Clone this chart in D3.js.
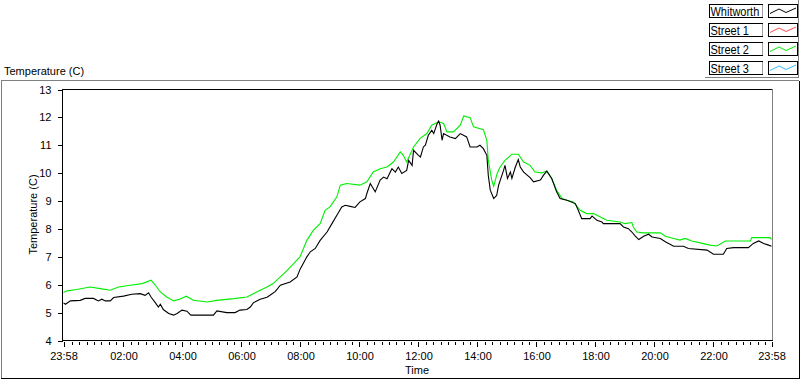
<!DOCTYPE html>
<html>
<head>
<meta charset="utf-8">
<script src="https://cdn.jsdelivr.net/npm/d3@7"></script>
<style>
  body { margin: 0; background: #fff; }
  text { font-family: "Liberation Sans", Arial, sans-serif; font-size: 11px; fill: #000; }
  .legend text { font-size: 13px; }
</style>
</head>
<body>
<script>
// series names shown in the legend
const seriesNames = ["Whitworth", "Street 1", "Street 2", "Street 3"];
const seriesColors = ["#000000", "#ff4a4a", "#00ee00", "#33bbff"];

// Whitworth (black)
const whitworthTimes = ["23:58","00:02","00:12","00:32","00:42","00:59","01:09","01:16","01:23","01:33","01:40","02:00","02:17","02:34","02:44","02:51","02:56","03:05","03:11","03:15","03:21","03:32","03:42","03:49","03:59","04:09","04:17","05:03","05:10","05:30","05:47","05:57","06:11","06:18","06:24","06:38","06:52","06:58","07:09","07:19","07:39","07:53","07:59","08:13","08:20","08:30","08:40","08:54","09:04","09:14","09:24","09:31","09:41","09:51","10:01","10:12","10:15","10:22","10:28","10:32","10:42","10:49","10:56","11:06","11:13","11:19","11:26","11:36","11:40","11:47","11:50","12:00","12:04","12:10","12:14","12:20","12:27","12:31","12:38","12:41","12:44","12:48","12:51","13:04","13:15","13:25","13:38","13:45","13:59","14:05","14:12","14:19","14:22","14:26","14:33","14:39","14:43","14:53","14:56","15:01","15:07","15:10","15:17","15:23","15:27","15:34","15:47","15:54","16:08","16:14","16:21","16:31","16:41","16:48","17:02","17:19","17:25","17:32","17:49","17:53","18:03","18:13","18:16","18:50","18:57","19:07","19:14","19:21","19:28","19:38","19:48","19:55","20:12","20:22","20:39","20:59","21:09","21:47","22:00","22:20","22:27","22:41","23:11","23:21","23:32","23:42","23:52","23:58"];
const whitworthTemp = [5.35,5.30,5.42,5.44,5.51,5.51,5.42,5.48,5.42,5.42,5.54,5.59,5.66,5.68,5.62,5.71,5.56,5.35,5.20,5.30,5.11,4.97,4.91,4.97,5.09,5.05,4.91,4.91,5.06,5.00,5.00,5.09,5.11,5.20,5.35,5.48,5.55,5.62,5.76,5.98,6.10,6.28,6.55,7.00,7.18,7.30,7.59,7.89,8.19,8.49,8.79,8.85,8.81,8.77,8.97,9.09,9.27,9.63,9.45,9.33,9.75,9.86,9.80,10.16,10.04,10.22,9.99,10.10,10.46,10.28,10.82,10.64,10.58,10.94,11.00,11.36,11.54,11.42,11.78,11.87,11.72,11.18,11.42,11.30,11.24,11.42,11.30,10.94,10.94,11.00,10.88,10.64,9.92,9.39,9.09,9.20,9.57,10.10,10.28,9.81,10.04,9.81,10.22,10.49,10.22,10.04,9.84,9.69,9.75,9.92,10.07,9.81,9.33,9.09,9.03,8.91,8.67,8.37,8.37,8.46,8.31,8.25,8.19,8.19,8.07,8.01,7.89,7.74,7.62,7.74,7.81,7.71,7.66,7.54,7.38,7.38,7.30,7.24,7.09,7.09,7.30,7.33,7.33,7.48,7.57,7.48,7.42,7.38];

// Street 2 (green)
const street2Times = ["23:58","00:05","00:25","00:52","01:13","01:33","01:50","02:14","02:38","02:56","03:05","03:15","03:28","03:42","03:55","04:08","04:22","04:50","05:10","05:44","06:11","06:24","06:38","06:52","07:05","07:19","07:32","07:46","07:59","08:13","08:26","08:40","08:50","09:00","09:14","09:21","09:34","10:01","10:15","10:28","10:42","10:56","11:09","11:23","11:29","11:36","11:50","12:03","12:17","12:27","12:41","12:51","12:58","13:11","13:25","13:32","13:45","13:52","14:12","14:19","14:22","14:29","14:33","14:40","14:46","14:56","15:10","15:23","15:34","15:47","15:57","16:11","16:21","16:31","16:41","16:52","17:02","17:15","17:29","17:42","17:56","18:10","18:23","18:50","19:00","19:14","19:17","19:24","19:38","20:12","20:22","20:39","20:52","21:02","21:16","21:33","21:53","22:07","22:24","23:15","23:18","23:55","23:58"];
const street2Temp = [5.72,5.78,5.83,5.92,5.86,5.80,5.92,5.98,6.04,6.16,5.98,5.74,5.56,5.42,5.49,5.59,5.44,5.38,5.44,5.50,5.56,5.68,5.80,5.92,6.05,6.28,6.50,6.76,7.00,7.59,7.95,8.19,8.67,8.79,9.15,9.57,9.63,9.57,9.69,10.04,10.16,10.22,10.40,10.76,10.64,10.40,10.94,11.24,11.42,11.72,11.84,11.78,11.48,11.48,11.72,12.05,11.99,11.66,11.56,11.18,10.46,9.75,9.53,9.99,10.22,10.46,10.68,10.68,10.40,10.28,10.04,10.01,10.08,9.81,9.39,9.09,9.03,8.97,8.67,8.55,8.55,8.43,8.31,8.25,8.19,8.23,8.07,7.89,7.86,7.86,7.74,7.66,7.60,7.66,7.57,7.50,7.42,7.39,7.57,7.57,7.69,7.69,7.62];

// axis ticks
const xTickLabels = ["23:58","02:00","04:00","06:00","08:00","10:00","12:00","14:00","16:00","18:00","20:00","22:00","23:58"];
const yTicks = [4, 5, 6, 7, 8, 9, 10, 11, 12, 13];

// "HH:MM" strings -> dates, rolling over midnight
function toDates(times) {
  let day = 0, prev = -1;
  return times.map(s => {
    const [h, m] = s.split(":").map(Number);
    const mins = h * 60 + m;
    if (mins < prev) day++;
    prev = mins;
    return new Date(2013, 0, 1 + day, h, m);
  });
}

const width = 800, height = 380;
const plot = { left: 62, right: 772, top: 89, bottom: 340 };

const svg = d3.select("body").append("svg")
  .attr("width", width)
  .attr("height", height);

// top-left title
svg.append("text").attr("x", 4).attr("y", 75).text("Temperature (C)");

// outer frame
const frame = svg.append("g").attr("shape-rendering", "crispEdges");
frame.append("line").attr("x1", 1).attr("x2", 799).attr("y1", 80.5).attr("y2", 80.5).attr("stroke", "#808080");
frame.append("line").attr("x1", 1.5).attr("x2", 1.5).attr("y1", 80).attr("y2", 378).attr("stroke", "#808080");
frame.append("line").attr("x1", 1).attr("x2", 800).attr("y1", 378.5).attr("y2", 378.5).attr("stroke", "#000");
frame.append("line").attr("x1", 799.5).attr("x2", 799.5).attr("y1", 81).attr("y2", 379).attr("stroke", "#000");

const xTickDates = toDates(xTickLabels);
const x = d3.scaleTime()
  .domain([xTickDates[0], xTickDates[xTickDates.length - 1]])
  .range([plot.left + 1.5, plot.right - 0.5]);

const y = d3.scaleLinear()
  .domain([4, 13])
  .range([plot.bottom + 0.5, plot.top + 0.5]);

// plot borders: top black, right gray
frame.append("line").attr("x1", plot.left).attr("x2", plot.right).attr("y1", plot.top + 0.5).attr("y2", plot.top + 0.5).attr("stroke", "#000");
frame.append("line").attr("x1", plot.right + 0.5).attr("x2", plot.right + 0.5).attr("y1", plot.top).attr("y2", plot.bottom + 1).attr("stroke", "#808080");
frame.append("line").attr("x1", plot.left).attr("x2", plot.right + 1).attr("y1", plot.bottom + 0.5).attr("y2", plot.bottom + 0.5).attr("stroke", "#000");

// Y axis
const yAxis = svg.append("g")
  .attr("transform", "translate(" + (plot.left + 0.5) + ",0)")
  .attr("shape-rendering", "crispEdges")
  .call(d3.axisLeft(y).tickValues(yTicks).tickSize(5).tickSizeOuter(0).tickPadding(6));
yAxis.select(".domain").attr("d", "M0," + plot.top + "V" + (plot.bottom + 1));
yAxis.selectAll("text").style("font-size", "11px").style("font-family", "Liberation Sans, Arial, sans-serif");

// X axis: minor ticks every 15 minutes, major ticks with labels
const minorTicks = d3.timeMinute.every(15).range(x.domain()[0], x.domain()[1]);
const xMinor = svg.append("g")
  .attr("transform", "translate(0," + (plot.bottom + 2) + ")")
  .attr("shape-rendering", "crispEdges")
  .call(d3.axisBottom(x).tickValues(minorTicks).tickSize(3).tickFormat(""));
xMinor.select(".domain").remove();

const xAxis = svg.append("g")
  .attr("transform", "translate(0," + (plot.bottom + 2) + ")")
  .attr("shape-rendering", "crispEdges")
  .call(d3.axisBottom(x).tickValues(xTickDates).tickSize(5).tickPadding(5)
    .tickFormat((d, i) => xTickLabels[i]));
xAxis.select(".domain").remove();
xAxis.selectAll("text").style("font-size", "11px").style("font-family", "Liberation Sans, Arial, sans-serif");

// axis titles
svg.append("text")
  .attr("x", (plot.left + plot.right) / 2)
  .attr("y", 374)
  .attr("text-anchor", "middle")
  .text("Time");

svg.append("text")
  .attr("transform", "translate(37," + ((plot.top + plot.bottom) / 2) + ") rotate(-90)")
  .attr("text-anchor", "middle")
  .text("Temperature (C)");

// lines
const line = d3.line()
  .x(d => x(d.t))
  .y(d => y(d.v));

const street2Data = toDates(street2Times).map((t, i) => ({ t: t, v: street2Temp[i] }));
const whitworthData = toDates(whitworthTimes).map((t, i) => ({ t: t, v: whitworthTemp[i] }));

svg.append("path")
  .datum(street2Data)
  .attr("fill", "none")
  .attr("stroke", seriesColors[2])
  .attr("stroke-width", 1.1)
  .attr("d", line);

svg.append("path")
  .datum(whitworthData)
  .attr("fill", "none")
  .attr("stroke", seriesColors[0])
  .attr("stroke-width", 1.1)
  .attr("d", line);

// legend
const legend = svg.append("g").attr("class", "legend");
const swatchShape = [[1, 8.5], [10, 4], [17, 7.5], [27, 3]];
seriesNames.forEach((name, i) => {
  const g = legend.append("g").attr("transform", "translate(709," + (4 + i * 19) + ")");
  g.append("rect").attr("x", 0.5).attr("y", 0.5).attr("width", 53).attr("height", 13)
    .attr("fill", "#fff").attr("stroke", "#000").attr("shape-rendering", "crispEdges");
  g.append("line").attr("x1", 53).attr("x2", 53).attr("y1", 1).attr("y2", 13)
    .attr("stroke", "#a0a0a0").attr("shape-rendering", "crispEdges");
  // narrow the text to fit the box like the original
  g.append("text").attr("transform", "translate(1.5,11.5) scale(0.845,1)").text(name);
  g.append("rect").attr("x", 59.5).attr("y", 0.5).attr("width", 29).attr("height", 13)
    .attr("fill", "#fff").attr("stroke", "#000").attr("shape-rendering", "crispEdges");
  g.append("path")
    .attr("d", d3.line()(swatchShape.map(p => [60 + p[0], p[1] + 1])))
    .attr("fill", "none").attr("stroke", seriesColors[i]).attr("stroke-width", 1);
});
legend.append("line").attr("x1", 798.5).attr("x2", 798.5).attr("y1", 0).attr("y2", 78)
  .attr("stroke", "#808080").attr("shape-rendering", "crispEdges");
legend.append("line").attr("x1", 705).attr("x2", 799).attr("y1", 77.5).attr("y2", 77.5)
  .attr("stroke", "#808080").attr("shape-rendering", "crispEdges");
</script>
</body>
</html>
